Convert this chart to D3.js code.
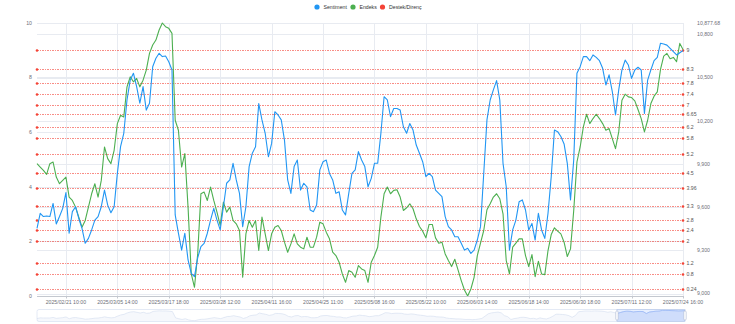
<!DOCTYPE html>
<html>
<head>
<meta charset="utf-8">
<script src="https://cdn.jsdelivr.net/npm/d3@7/dist/d3.min.js"></script>
<style>
  html, body { margin: 0; padding: 0; background: #fff; }
  svg { display: block; font-family: "Liberation Sans", Arial, sans-serif; }
</style>
</head>
<body>
<svg id="chart" width="735" height="324"></svg>
<script>
// Category labels shown on the time axis (one every `labelStep` samples, starting at `labelStart`)
const tickLabels = [
  "2025/02/21 10:00", "2025/03/05 14:00", "2025/03/17 18:00", "2025/03/28 12:00",
  "2025/04/11 16:00", "2025/04/25 11:00", "2025/05/08 16:00", "2025/05/22 10:00",
  "2025/06/03 14:00", "2025/06/18 14:00", "2025/06/30 18:00", "2025/07/11 12:00",
  "2025/07/24 16:00"
];
const labelStart = 9;
const labelStep = 16;

// Sentiment score (left axis, 0-10)
const sentiment = [
  2.48, 3.03, 2.91, 2.93, 2.91, 3.39, 2.64, 2.91, 3.21, 3.79, 2.30, 3.09, 3.27, 2.84, 2.48, 1.93, 2.11, 2.42, 2.78, 2.91,
  3.27, 3.88, 3.33, 3.05, 3.27, 4.49, 5.47, 5.96, 7.18, 7.91, 8.16, 7.67, 7.06, 7.67, 6.81, 7.06, 8.40, 8.71, 8.89, 8.77,
  8.79, 8.58, 8.28, 2.97, 2.30, 1.68, 2.30, 1.32, 0.83, 0.71, 1.40,
  1.81, 1.93, 2.30, 2.78, 3.21, 2.78, 2.42, 3.27, 4.13, 4.25, 4.86, 4.25, 3.76, 2.54, 3.27, 4.74, 5.23, 5.47, 7.05,
  6.45, 5.96, 5.10, 5.59, 6.75, 6.63, 6.45, 5.71, 4.25, 3.76, 4.74, 4.98, 3.88, 4.13, 4.00, 3.15, 3.09, 3.33, 4.62,
  4.92, 4.98, 4.49, 4.25, 3.76, 3.82, 3.15, 2.97, 3.76, 4.49, 4.62, 5.29,
  4.98, 4.74, 4.00, 4.31, 4.86, 4.86, 5.96, 7.30, 7.18, 6.57, 6.87, 6.87, 6.81, 6.20, 5.96, 6.32, 6.08, 5.53, 5.23,
  4.92, 4.37, 4.49, 4.37, 3.88, 3.76, 3.64, 2.91, 2.54, 2.42, 2.17, 2.17, 1.93, 1.68, 1.75, 1.56, 1.68, 2.05, 2.54,
  4.49, 6.45, 7.18, 7.55, 7.89, 7.18, 4.86, 4.00, 1.68, 2.42, 2.78, 3.45,
  3.52, 3.15, 2.42, 2.66, 2.05, 3.03, 2.42, 2.11, 3.03, 4.37, 6.08, 6.02, 5.84, 5.57, 4.86, 3.52, 4.98, 8.16, 8.40,
  8.77, 8.77, 8.62, 8.83, 8.74, 8.62, 8.34, 7.73, 8.10, 7.49, 6.63, 7.55, 8.28, 8.64, 8.46, 7.97, 8.28, 8.38, 8.28,
  6.69, 7.91, 8.28, 8.62, 8.74, 9.26, 9.23, 9.19, 9.07, 8.95, 8.83, 8.91, 8.99
];

// Index level (right axis)
const endeks = [
  9901.8, 9878.6, 9855.4, 9827.6, 9901.8, 9913.4, 9809.0, 9762.7, 9785.9, 9809.0, 9670.0, 9646.8, 9600.4, 9530.9,
  9461.3, 9507.7, 9600.4, 9693.1, 9762.7, 9670.0, 9785.9, 10017.7, 9936.5, 9901.8, 9994.5, 10179.9, 10237.9, 10226.3,
  10434.9, 10504.4, 10469.7, 10492.9, 10434.9, 10481.3, 10550.8, 10666.7, 10724.6, 10759.4, 10829.0, 10877.68, 10852.1,
  10840.6, 10805.8, 10203.1, 10133.6, 9878.6, 9971.3, 9600.4, 9136.8, 9044.1, 9275.9,
  9693.1, 9704.7, 9646.8, 9739.5, 9646.8, 9565.6, 9473.0, 9635.2, 9565.6, 9600.4, 9507.7, 9484.5, 9438.2, 9113.6,
  9415.0, 9507.7, 9461.3, 9507.7, 9299.1, 9530.9, 9415.0, 9299.1, 9415.0, 9461.3, 9473.0, 9438.2, 9357.0, 9287.5,
  9345.4, 9415.0, 9345.4, 9322.3, 9310.7, 9391.8, 9322.3, 9322.3, 9391.8, 9496.1, 9484.5, 9426.6, 9380.2, 9287.5,
  9264.3, 9217.9, 9136.8, 9078.9, 9160.0, 9148.4, 9113.6, 9194.8,
  9171.6, 9160.0, 9078.9, 9218.0, 9264.3, 9322.3, 9530.9, 9693.1, 9739.5, 9693.1, 9716.3, 9720.9, 9670.0, 9577.2,
  9595.8, 9623.6, 9588.8, 9519.3, 9466.0, 9433.5, 9387.2, 9479.9, 9479.9, 9387.2, 9350.1, 9357.0, 9275.9, 9229.5,
  9187.8, 9238.8, 9164.6, 9090.5, 9025.6, 8983.8, 9032.5, 9113.6, 9264.3, 9350.1, 9438.2, 9581.9, 9623.6, 9670.0,
  9693.1, 9658.4, 9554.1, 9229.5, 9136.8, 9322.3, 9350.1, 9380.0,
  9380.2, 9264.3, 9187.8, 9271.3, 9118.3, 9224.9, 9136.8, 9132.2, 9299.1, 9410.3, 9456.7, 9433.5, 9415.0, 9357.0,
  9257.4, 9310.7, 9577.2, 9913.4, 10017.7, 10156.7, 10244.8, 10179.9, 10214.7, 10244.8, 10214.7, 10179.9, 10133.6,
  10145.2, 10075.6, 10006.1, 10122.0, 10342.2, 10383.9, 10365.4, 10360.7, 10337.5, 10277.3, 10214.7, 10122.0,
  10203.1, 10319.0, 10370.0, 10400.1, 10555.4, 10648.2, 10666.7, 10629.6, 10638.9, 10608.8, 10736.2, 10694.5
];

// Support / resistance levels on the sentiment scale
const levels = [9, 8.3, 7.8, 7.4, 7, 6.65, 6.2, 5.8, 5.2, 4.5, 3.96, 3.3, 2.8, 2.4, 2, 1.2, 0.8, 0.24];

const leftTicks = [0, 2, 4, 6, 8, 10];
const rightTicks = [9000, 9300, 9600, 9900, 10200, 10500, 10800];

const legendItems = ["Sentiment", "Endeks", "Destek/Direnç"];

// ---- layout & style ----
const plot = { left: 37, right: 683, top: 23, bottom: 296 };
const colors = { sentiment: "#2196f3", endeks: "#4caf50", level: "#f44336" };
const axisText = "#6e7079";
const gridColor = "#e8ebf1";
const fontSize = 5.2;

const svg = d3.select("#chart");

const n = sentiment.length;
const x = d3.scaleLinear().domain([0, n - 1]).range([plot.left, plot.right]);
const yL = d3.scaleLinear().domain([0, 10]).range([plot.bottom, plot.top]);
const eMax = d3.max(endeks), eMin = d3.min(endeks);
const yR = d3.scaleLinear().domain([eMin, eMax]).range([plot.bottom, plot.top]);
const crisp = v => Math.round(v) + 0.5;

const tickIdx = tickLabels.map((_, k) => labelStart + k * labelStep);

// horizontal split lines (both value axes)
const grid = svg.append("g").attr("stroke", gridColor).attr("stroke-width", 1)
  .attr("shape-rendering", "crispEdges");
leftTicks.forEach(v => grid.append("line")
  .attr("x1", plot.left).attr("x2", plot.right).attr("y1", crisp(yL(v))).attr("y2", crisp(yL(v))));
rightTicks.concat([eMax]).forEach(v => grid.append("line")
  .attr("x1", plot.left).attr("x2", plot.right).attr("y1", crisp(yR(v))).attr("y2", crisp(yR(v))));
// vertical split lines at labelled categories
tickIdx.forEach(i => grid.append("line")
  .attr("x1", crisp(x(i))).attr("x2", crisp(x(i))).attr("y1", plot.top).attr("y2", plot.bottom));

// support / resistance lines
const lv = svg.append("g");
levels.forEach(v => {
  const y = crisp(yL(v));
  lv.append("line")
    .attr("x1", plot.left).attr("x2", plot.right).attr("y1", y).attr("y2", y)
    .attr("stroke", colors.level).attr("stroke-width", 1)
    .attr("stroke-dasharray", "1.5,1").attr("opacity", 0.6)
    .attr("shape-rendering", "crispEdges");
  [plot.left, plot.right].forEach(cx => lv.append("circle")
    .attr("cx", cx).attr("cy", y).attr("r", 1.3).attr("fill", colors.level));
  lv.append("text")
    .attr("x", plot.right + 3.5).attr("y", y).attr("dy", "0.35em")
    .attr("font-size", fontSize).attr("fill", "#555").text(v);
});

// series lines
const lineL = d3.line().x((d, i) => x(i)).y(d => yL(d));
const lineR = d3.line().x((d, i) => x(i)).y(d => yR(d));
svg.append("path").datum(endeks).attr("d", lineR)
  .attr("fill", "none").attr("stroke", colors.endeks).attr("stroke-width", 1.1)
  .attr("stroke-linejoin", "round");
svg.append("path").datum(sentiment).attr("d", lineL)
  .attr("fill", "none").attr("stroke", colors.sentiment).attr("stroke-width", 1.1)
  .attr("stroke-linejoin", "round");

// x axis
const xa = svg.append("g");
xa.append("line").attr("x1", plot.left).attr("x2", plot.right)
  .attr("y1", plot.bottom + 0.5).attr("y2", plot.bottom + 0.5).attr("stroke", "#c4c8cf").attr("stroke-width", 1);
tickIdx.forEach((i, k) => {
  xa.append("line").attr("x1", crisp(x(i))).attr("x2", crisp(x(i)))
    .attr("y1", plot.bottom).attr("y2", plot.bottom + 2.5).attr("stroke", "#c4c8cf").attr("stroke-width", 1);
  xa.append("text").attr("x", x(i)).attr("y", plot.bottom + 7.5)
    .attr("text-anchor", "middle").attr("font-size", fontSize).attr("fill", axisText).text(tickLabels[k]);
});

// left axis labels
leftTicks.forEach(v => svg.append("text")
  .attr("x", plot.left - 5).attr("y", yL(v)).attr("dy", "0.35em")
  .attr("text-anchor", "end").attr("font-size", fontSize).attr("fill", axisText).text(v));

// right axis labels
const fmt = d3.format(",");
rightTicks.forEach(v => svg.append("text")
  .attr("x", plot.right + 14).attr("y", yR(v)).attr("dy", "0.35em")
  .attr("font-size", fontSize).attr("fill", axisText).text(fmt(v)));
svg.append("text")
  .attr("x", plot.right + 14).attr("y", yR(eMax)).attr("dy", "0.35em")
  .attr("font-size", fontSize).attr("fill", axisText).text(d3.format(",.2f")(eMax));

// legend
const legColors = [colors.sentiment, colors.endeks, colors.level];
const legX = [317, 353, 382.5];
legendItems.forEach((t, k) => {
  svg.append("circle").attr("cx", legX[k]).attr("cy", 7).attr("r", 2.6).attr("fill", legColors[k]);
  svg.append("text").attr("x", legX[k] + 6.5).attr("y", 7).attr("dy", "0.35em")
    .attr("font-size", fontSize).attr("fill", "#333").text(t);
});

// range slider with data preview
const sl = { left: 37, right: 685, top: 309.5, bottom: 321.5 };
const sx = d3.scaleLinear().domain([0, n - 1]).range([sl.left, sl.right]);
const sy = d3.scaleLinear().domain([0, 10]).range([sl.bottom, sl.top]);
const slider = svg.append("g");
slider.append("rect").attr("x", sl.left).attr("y", sl.top)
  .attr("width", sl.right - sl.left).attr("height", sl.bottom - sl.top)
  .attr("rx", 2).attr("fill", "none").attr("stroke", "#dde4f2").attr("stroke-width", 0.8);
const area = d3.area().x((d, i) => sx(i)).y0(sl.bottom).y1(d => sy(d));
const pline = d3.line().x((d, i) => sx(i)).y(d => sy(d));
slider.append("path").datum(sentiment).attr("d", area).attr("fill", "#d2dbee").attr("opacity", 0.2);
slider.append("path").datum(sentiment).attr("d", pline).attr("fill", "none")
  .attr("stroke", "#d2dbee").attr("stroke-width", 0.6);
// selected window (last part of the range)
const selFrom = 0.895;
const sel0 = sx(selFrom * (n - 1)), sel1 = sl.right;
slider.append("clipPath").attr("id", "selClip").append("rect")
  .attr("x", sel0).attr("y", sl.top).attr("width", sel1 - sel0).attr("height", sl.bottom - sl.top);
slider.append("path").datum(sentiment).attr("d", area).attr("clip-path", "url(#selClip)")
  .attr("fill", "#8fb0f7").attr("opacity", 0.2);
slider.append("path").datum(sentiment).attr("d", pline).attr("clip-path", "url(#selClip)")
  .attr("fill", "none").attr("stroke", "#8fb0f7").attr("stroke-width", 0.6);
slider.append("rect").attr("x", sel0).attr("y", sl.top)
  .attr("width", sel1 - sel0).attr("height", sl.bottom - sl.top)
  .attr("fill", "rgba(135,175,255,0.2)").attr("stroke", "#b8c8ea").attr("stroke-width", 0.6);
[sel0, sel1].forEach(hx => slider.append("rect")
  .attr("x", hx - 1.2).attr("y", sl.top + 1.5).attr("width", 2.4).attr("height", sl.bottom - sl.top - 3)
  .attr("rx", 1).attr("fill", "#fff").attr("stroke", "#acb8d1").attr("stroke-width", 0.6));
</script>
</body>
</html>
